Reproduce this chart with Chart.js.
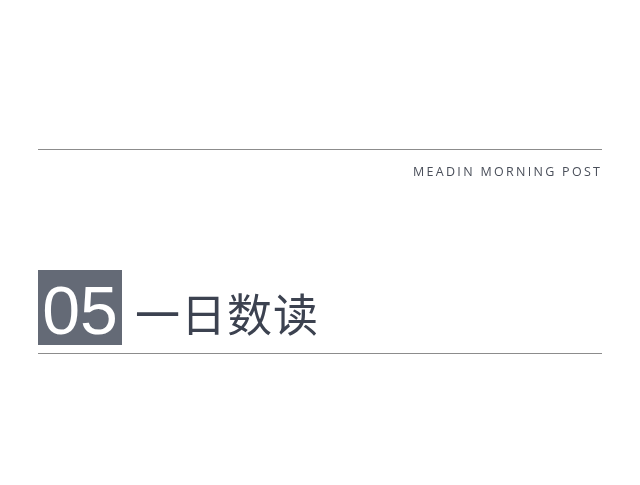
<!DOCTYPE html>
<html>
<head>
<meta charset="utf-8">
<script src="https://cdn.jsdelivr.net/npm/chart.js@4/dist/chart.umd.min.js"></script>
<style>
  html,body{margin:0;padding:0;background:#fff;}
  #c{display:block;}
</style>
</head>
<body>
<canvas id="c" width="640" height="485"></canvas>
<script>
// Content
const sectionNumber = ["05"];
const sectionTitle = ["一日数读"];
const taglineText = ["MEADIN MORNING POST"];

// Layout (page coordinates in the 640x485 frame)
const layout = {
  left: 38, right: 602,
  topRule: 149.5, bottomRule: 353.5,
  boxLeft: 38, boxRight: 122, boxTop: 270, boxBottom: 345
};

const ruleColor = '#8c8c8c';
const boxColor = '#646a76';

const textPlugin = {
  id: 'slideText',
  afterDatasetsDraw(chart) {
    const ctx = chart.ctx;
    const xs = chart.scales.x, ys = chart.scales.y;
    ctx.save();
    // tagline
    ctx.fillStyle = '#4a4f5a';
    ctx.font = '400 12.5px "Open Sans", Lato, sans-serif';
    ctx.letterSpacing = '2.3px';
    ctx.textAlign = 'right';
    ctx.textBaseline = 'middle';
    ctx.fillText(taglineText[0], xs.getPixelForValue(600) + 2.3, ys.getPixelForValue(172));
    ctx.letterSpacing = '0px';
    // section number
    ctx.fillStyle = '#ffffff';
    ctx.font = '400 68px "Liberation Sans", Arial, sans-serif';
    ctx.textAlign = 'center';
    ctx.textBaseline = 'alphabetic';
    ctx.fillText(sectionNumber[0], xs.getPixelForValue((layout.boxLeft + layout.boxRight) / 2), ys.getPixelForValue(334));
    // title
    ctx.fillStyle = '#3c4250';
    ctx.font = '400 45px "Noto Sans CJK SC", sans-serif';
    ctx.textAlign = 'left';
    ctx.textBaseline = 'middle';
    ctx.letterSpacing = '1px';
    ctx.fillText(sectionTitle[0], xs.getPixelForValue(135), ys.getPixelForValue(315));
    ctx.restore();
  }
};

new Chart(document.getElementById('c'), {
  type: 'scatter',
  data: {
    datasets: [
      {
        data: [{x: layout.left, y: layout.topRule}, {x: layout.right, y: layout.topRule}],
        showLine: true, borderColor: ruleColor, borderWidth: 1, pointRadius: 0
      },
      {
        data: [{x: layout.left, y: layout.bottomRule}, {x: layout.right, y: layout.bottomRule}],
        showLine: true, borderColor: ruleColor, borderWidth: 1, pointRadius: 0
      },
      {
        data: [
          {x: layout.boxLeft, y: layout.boxTop}, {x: layout.boxRight, y: layout.boxTop},
          {x: layout.boxRight, y: layout.boxBottom}, {x: layout.boxLeft, y: layout.boxBottom},
          {x: layout.boxLeft, y: layout.boxTop}
        ],
        showLine: true, borderWidth: 0, borderColor: boxColor, backgroundColor: boxColor,
        fill: 'shape', pointRadius: 0, tension: 0
      }
    ]
  },
  options: {
    responsive: false,
    animation: false,
    events: [],
    layout: {padding: 0},
    plugins: {legend: {display: false}, tooltip: {enabled: false}, title: {display: false}},
    scales: {
      x: {type: 'linear', min: 0, max: 640, display: false},
      y: {type: 'linear', min: 0, max: 485, reverse: true, display: false}
    }
  },
  plugins: [textPlugin]
});
</script>
</body>
</html>
